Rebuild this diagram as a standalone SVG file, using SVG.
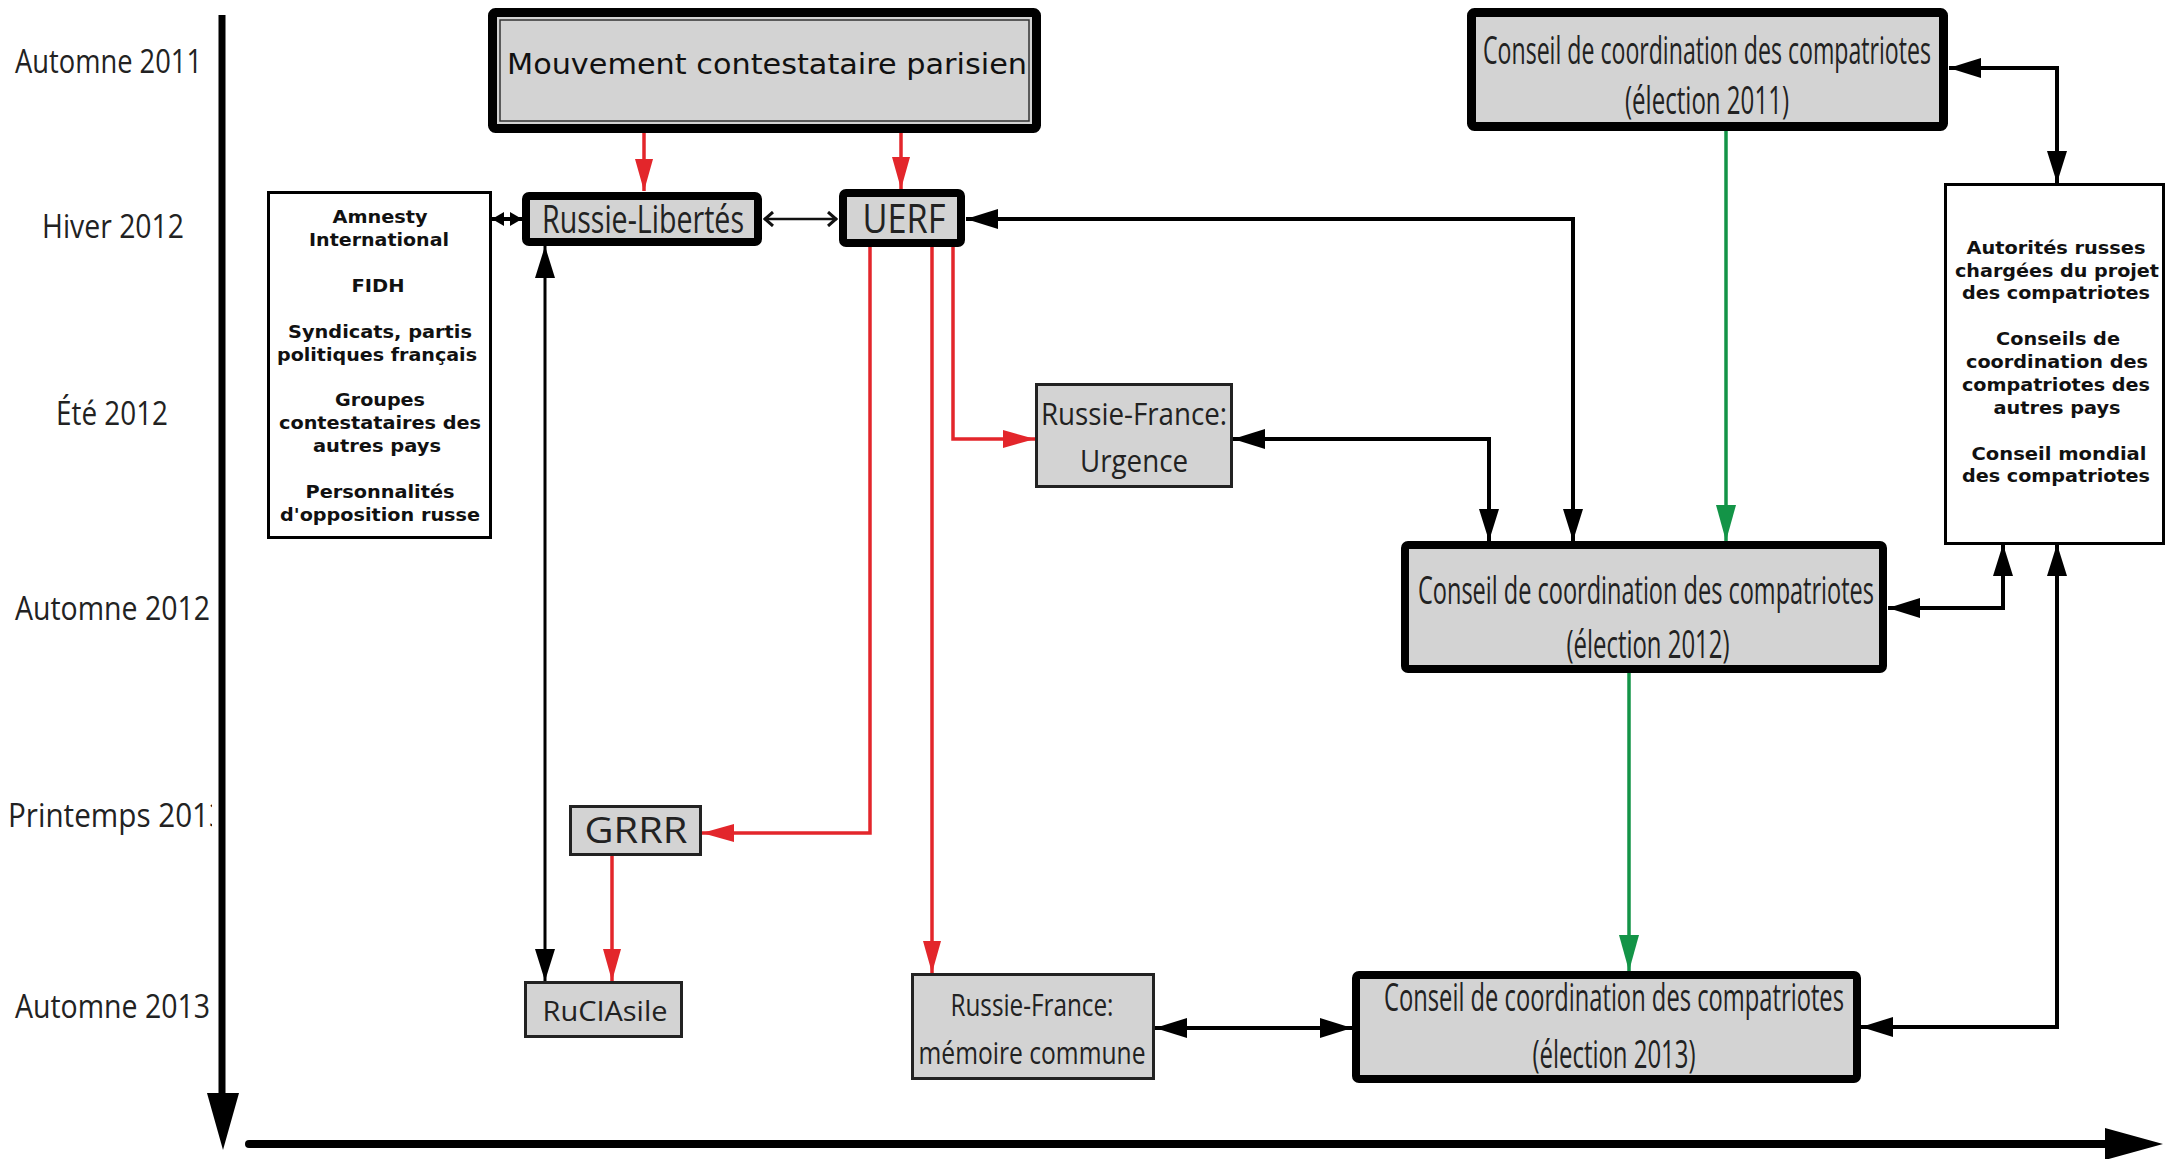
<svg xmlns="http://www.w3.org/2000/svg" width="2167" height="1159" viewBox="0 0 2167 1159">
<style>
  .lbl { font-family: "Open Sans", "Liberation Sans", sans-serif; font-size: 32px; fill: #222; }
  .nt { font-family: "Open Sans", "Liberation Sans", sans-serif; fill: #222; text-anchor: middle; }
  .mv { font-family: "DejaVu Sans", "Liberation Sans", sans-serif; font-size: 28px; fill: #111; text-anchor: middle; }
  .lst { font-family: "DejaVu Sans", "Liberation Sans", sans-serif; font-weight: bold; font-size: 18px; fill: #111; text-anchor: middle; }
  .thick { fill: #d3d3d3; stroke: #000; stroke-width: 8; }
  .thin { fill: #d3d3d3; stroke: #222; stroke-width: 3; }
  .wbox { fill: #fff; stroke: #000; stroke-width: 3; }
  .red { fill: none; stroke: #e3262b; stroke-width: 3.5; marker-end: url(#aRed); }
  .blk { fill: none; stroke: #000; stroke-width: 4; marker-start: url(#aBlk); marker-end: url(#aBlk); }
  .grn { fill: none; stroke: #139447; stroke-width: 3.5; marker-end: url(#aGrn); }
</style>
<defs>
  <marker id="aRed" markerUnits="userSpaceOnUse" viewBox="0 0 32 18" refX="32" refY="9" markerWidth="32" markerHeight="18" orient="auto">
    <path d="M0,0 L32,9 L0,18 z" fill="#e3262b"/>
  </marker>
  <marker id="aBlk" markerUnits="userSpaceOnUse" viewBox="0 0 32 20" refX="32" refY="10" markerWidth="32" markerHeight="20" orient="auto-start-reverse">
    <path d="M0,0 L32,10 L0,20 z" fill="#000"/>
  </marker>
  <marker id="aGrn" markerUnits="userSpaceOnUse" viewBox="0 0 36 20" refX="36" refY="10" markerWidth="36" markerHeight="20" orient="auto">
    <path d="M0,0 L36,10 L0,20 z" fill="#139447"/>
  </marker>
  <marker id="aChev" markerUnits="userSpaceOnUse" viewBox="0 0 12 16" refX="11" refY="8" markerWidth="12" markerHeight="16" orient="auto-start-reverse">
    <path d="M2,1 L10,8 L2,15" fill="none" stroke="#111" stroke-width="3"/>
  </marker>
  <marker id="aSmall" markerUnits="userSpaceOnUse" viewBox="0 0 12 14" refX="12" refY="7" markerWidth="12" markerHeight="14" orient="auto-start-reverse">
    <path d="M0,0 L12,7 L0,14 z" fill="#000"/>
  </marker>
  <clipPath id="clipLbl">
    <rect x="0" y="0" width="212" height="1159"/>
  </clipPath>
</defs>

<g id="axes">
  <path d="M222,15 L222,1096" stroke="#000" stroke-width="7" fill="none"/>
  <polygon points="207,1093 239,1093 223,1150" fill="#000"/>
  <path d="M249,1144 L2110,1144" stroke="#000" stroke-width="8" fill="none" stroke-linecap="round"/>
  <polygon points="2105,1128 2105,1160 2163,1144" fill="#000"/>
</g>

<g id="time-labels" clip-path="url(#clipLbl)">
  <text class="lbl" x="15" y="73" textLength="187" lengthAdjust="spacingAndGlyphs">Automne 2011</text>
  <text class="lbl" x="42" y="238" textLength="142" lengthAdjust="spacingAndGlyphs">Hiver 2012</text>
  <text class="lbl" x="56" y="425" textLength="112" lengthAdjust="spacingAndGlyphs">Été 2012</text>
  <text class="lbl" x="15" y="620" textLength="195" lengthAdjust="spacingAndGlyphs">Automne 2012</text>
  <text class="lbl" x="8" y="827" textLength="218" lengthAdjust="spacingAndGlyphs">Printemps 2013</text>
  <text class="lbl" x="15" y="1018" textLength="195" lengthAdjust="spacingAndGlyphs">Automne 2013</text>
</g>

<g id="connectors">
  <path class="red" d="M644,133 L644,191"/>
  <path class="red" d="M901,133 L901,189"/>
  <path class="red" d="M870,247 L870,833 L702,833"/>
  <path class="red" d="M932,247 L932,973"/>
  <path class="red" d="M953,247 L953,439 L1035,439"/>
  <path class="red" d="M612,856 L612,981"/>
  <path class="blk" d="M545,246 L545,981" style="stroke-width:3"/>
  <path d="M764,219 L837,219" fill="none" stroke="#111" stroke-width="2.5" marker-start="url(#aChev)" marker-end="url(#aChev)"/>
  <path d="M492,219 L522,219" fill="none" stroke="#000" stroke-width="4" marker-start="url(#aSmall)" marker-end="url(#aSmall)"/>
  <path class="blk" d="M966,219 L1573,219 L1573,541"/>
  <path class="blk" d="M1233,439 L1489,439 L1489,541"/>
  <path class="blk" d="M1949,68 L2057,68 L2057,183"/>
  <path class="blk" d="M1888,608 L2003,608 L2003,544"/>
  <path class="blk" d="M1861,1027 L2057,1027 L2057,544"/>
  <path class="blk" d="M1155,1028 L1352,1028"/>
  <path class="grn" d="M1726,131 L1726,541"/>
  <path class="grn" d="M1629,673 L1629,971"/>
</g>

<g id="mouvement">
  <rect class="thick" x="492.5" y="12.5" width="544" height="116" rx="3" style="stroke-width:9"/>
  <rect x="500" y="20" width="529" height="101" fill="none" stroke="#333" stroke-width="1.5"/>
  <text class="mv" x="767" y="74" textLength="520" lengthAdjust="spacingAndGlyphs">Mouvement contestataire parisien</text>
</g>

<g id="russie-libertes">
  <rect class="thick" x="526" y="196" width="232" height="46" rx="3"/>
  <text class="nt" x="643" y="233" font-size="38" textLength="202" lengthAdjust="spacingAndGlyphs">Russie-Libertés</text>
</g>

<g id="uerf">
  <rect class="thick" x="843" y="193" width="118" height="50" rx="3"/>
  <text class="nt" x="904" y="233" font-size="40" textLength="83" lengthAdjust="spacingAndGlyphs">UERF</text>
</g>

<g id="soutiens">
  <rect class="wbox" x="268.5" y="192.5" width="222" height="345"/>
  <text class="lst" x="380" y="223" textLength="95" lengthAdjust="spacingAndGlyphs">Amnesty</text>
  <text class="lst" x="379" y="246" textLength="140" lengthAdjust="spacingAndGlyphs">International</text>
  <text class="lst" x="378" y="292" textLength="53" lengthAdjust="spacingAndGlyphs">FIDH</text>
  <text class="lst" x="380" y="338" textLength="184" lengthAdjust="spacingAndGlyphs">Syndicats, partis</text>
  <text class="lst" x="377" y="361" textLength="200" lengthAdjust="spacingAndGlyphs">politiques français</text>
  <text class="lst" x="380" y="406" textLength="90" lengthAdjust="spacingAndGlyphs">Groupes</text>
  <text class="lst" x="380" y="429" textLength="202" lengthAdjust="spacingAndGlyphs">contestataires des</text>
  <text class="lst" x="377" y="452" textLength="128" lengthAdjust="spacingAndGlyphs">autres pays</text>
  <text class="lst" x="380" y="498" textLength="149" lengthAdjust="spacingAndGlyphs">Personnalités</text>
  <text class="lst" x="380" y="521" textLength="200" lengthAdjust="spacingAndGlyphs">d'opposition russe</text>
</g>

<g id="conseil-2011">
  <rect class="thick" x="1471.5" y="12.5" width="472" height="114" rx="3" style="stroke-width:9"/>
  <text class="nt" x="1707" y="64" font-size="38" textLength="448" lengthAdjust="spacingAndGlyphs">Conseil de coordination des compatriotes</text>
  <text class="nt" x="1707" y="114" font-size="38" textLength="164" lengthAdjust="spacingAndGlyphs">(élection 2011)</text>
</g>

<g id="autorites">
  <rect class="wbox" x="1945.5" y="184.5" width="218" height="359"/>
  <text class="lst" x="2056" y="254" textLength="179" lengthAdjust="spacingAndGlyphs">Autorités russes</text>
  <text class="lst" x="2057" y="277" textLength="204" lengthAdjust="spacingAndGlyphs">chargées du projet</text>
  <text class="lst" x="2056" y="299" textLength="188" lengthAdjust="spacingAndGlyphs">des compatriotes</text>
  <text class="lst" x="2058" y="345" textLength="124" lengthAdjust="spacingAndGlyphs">Conseils de</text>
  <text class="lst" x="2057" y="368" textLength="182" lengthAdjust="spacingAndGlyphs">coordination des</text>
  <text class="lst" x="2056" y="391" textLength="188" lengthAdjust="spacingAndGlyphs">compatriotes des</text>
  <text class="lst" x="2057" y="414" textLength="127" lengthAdjust="spacingAndGlyphs">autres pays</text>
  <text class="lst" x="2059" y="460" textLength="175" lengthAdjust="spacingAndGlyphs">Conseil mondial</text>
  <text class="lst" x="2056" y="482" textLength="188" lengthAdjust="spacingAndGlyphs">des compatriotes</text>
</g>

<g id="russie-france-urgence">
  <rect class="thin" x="1036.5" y="384.5" width="195" height="102"/>
  <text class="nt" x="1134" y="425" font-size="31" textLength="186" lengthAdjust="spacingAndGlyphs">Russie-France:</text>
  <text class="nt" x="1134" y="472" font-size="31" textLength="108" lengthAdjust="spacingAndGlyphs">Urgence</text>
</g>

<g id="conseil-2012">
  <rect class="thick" x="1405" y="545" width="478" height="124" rx="3"/>
  <text class="nt" x="1646" y="604" font-size="38" textLength="456" lengthAdjust="spacingAndGlyphs">Conseil de coordination des compatriotes</text>
  <text class="nt" x="1648" y="658" font-size="38" textLength="163" lengthAdjust="spacingAndGlyphs">(élection 2012)</text>
</g>

<g id="grrr">
  <rect class="thin" x="570.5" y="806.5" width="130" height="48"/>
  <text class="nt" x="636" y="843" font-size="36" textLength="103" lengthAdjust="spacingAndGlyphs">GRRR</text>
</g>

<g id="rucIasile">
  <rect class="thin" x="525.5" y="982.5" width="156" height="54"/>
  <text class="nt" x="605" y="1021" font-size="27" textLength="125" lengthAdjust="spacingAndGlyphs">RuCIAsile</text>
</g>

<g id="russie-france-memoire">
  <rect class="thin" x="912.5" y="974.5" width="241" height="104"/>
  <text class="nt" x="1032" y="1016" font-size="31" textLength="163" lengthAdjust="spacingAndGlyphs">Russie-France:</text>
  <text class="nt" x="1032" y="1064" font-size="31" textLength="227" lengthAdjust="spacingAndGlyphs">mémoire commune</text>
</g>

<g id="conseil-2013">
  <rect class="thick" x="1356" y="975" width="501" height="104" rx="3"/>
  <text class="nt" x="1614" y="1011" font-size="38" textLength="460" lengthAdjust="spacingAndGlyphs">Conseil de coordination des compatriotes</text>
  <text class="nt" x="1614" y="1068" font-size="38" textLength="163" lengthAdjust="spacingAndGlyphs">(élection 2013)</text>
</g>
</svg>
